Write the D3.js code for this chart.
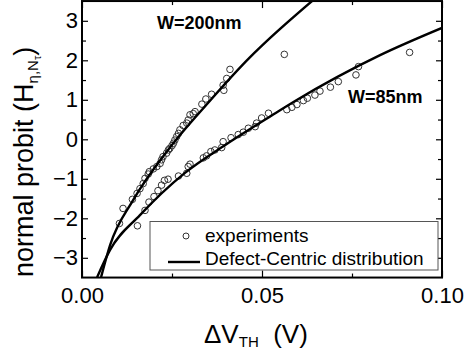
<!DOCTYPE html>
<html><head><meta charset="utf-8">
<script src="https://cdn.jsdelivr.net/npm/d3@7"></script>
<style>body{margin:0;background:#fff}svg{display:block}text{font-family:"Liberation Sans",Arial,sans-serif}</style>
</head><body>
<svg id="c" width="468" height="349"></svg>
<script>
// W=200nm experiments
const x200 = [0.0104,0.0114,0.0140,0.0153,0.0161,0.0170,0.0175,0.0184,0.0187,0.0198,0.0208,0.0217,0.0221,0.0225,0.0235,0.0240,0.0244,0.0250,0.0254,0.0258,0.0263,0.0268,0.0272,0.0281,0.0291,0.0295,0.0300,0.0309,0.0314,0.0333,0.0344,0.0360,0.0394,0.0392,0.0402,0.0411];
const y200 = [-2.13,-1.75,-1.52,-1.37,-1.25,-1.12,-0.99,-0.88,-0.82,-0.75,-0.69,-0.61,-0.52,-0.44,-0.35,-0.27,-0.23,-0.16,-0.10,-0.02,0.07,0.15,0.24,0.35,0.41,0.49,0.62,0.65,0.70,0.89,1.02,1.14,1.24,1.37,1.54,1.77];
// W=85nm experiments
const x85 = [0.0154,0.0175,0.0186,0.0200,0.0211,0.0221,0.0229,0.0239,0.0268,0.0291,0.0295,0.0300,0.0337,0.0346,0.0358,0.0369,0.0388,0.0392,0.0414,0.0434,0.0448,0.0462,0.0481,0.0485,0.0499,0.0518,0.0569,0.0583,0.0597,0.0615,0.0626,0.0647,0.0661,0.0690,0.0712,0.0761,0.0768,0.0910,0.0562];
const y85 = [-2.19,-1.80,-1.59,-1.45,-1.30,-1.16,-1.04,-1.01,-0.93,-0.86,-0.69,-0.63,-0.47,-0.42,-0.31,-0.27,-0.21,-0.06,0.04,0.12,0.18,0.28,0.32,0.41,0.54,0.66,0.75,0.81,0.88,0.98,1.04,1.12,1.22,1.32,1.46,1.63,1.84,2.20,2.15];
// Defect-centric fits
const fitX200 = [0.0053,0.0078,0.0142,0.0239,0.0350,0.0467,0.0522,0.0639];
const fitY200 = [-3.49,-2.68,-1.54,-0.27,0.92,2.08,2.56,3.50];
const fitX85 = [0.0042,0.0078,0.0161,0.0286,0.0400,0.0528,0.0592,0.0828,0.1000];
const fitY85 = [-3.49,-2.80,-1.92,-0.85,-0.13,0.61,0.97,2.13,2.82];
// ticks
const xTicks = [0, 0.05, 0.10];
const xTickLabels = ["0.00","0.05","0.10"];
const xMinor = [0.025, 0.075];
const yTicks = [-3,-2,-1,0,1,2,3];
const yMinor = [-2.5,-1.5,-0.5,0.5,1.5,2.5];

const svg = d3.select("#c");
const L=82, R=442, T=1.05, B=277.55;
const x = d3.scaleLinear().domain([0,0.10]).range([L,R]);
const y = d3.scaleLinear().domain([-3.5,3.5]).range([B,T]);

svg.append("defs").append("clipPath").attr("id","clip").append("rect")
  .attr("x",L).attr("y",T).attr("width",R-L).attr("height",B-T);

const font = '"Liberation Sans",Arial,sans-serif';
function styleAxis(g){ g.select(".domain").remove(); g.selectAll("line").attr("stroke","#000").attr("stroke-width",1.2);
  g.selectAll("text").attr("font-family",font).attr("font-size",22).attr("fill","#000"); }

// bottom
svg.append("g").attr("transform",`translate(0,${B})`)
  .call(d3.axisBottom(x).tickValues(xTicks).tickFormat((d,i)=>xTickLabels[i]).tickSizeInner(-7).tickSizeOuter(0).tickPadding(10)).call(styleAxis);
svg.append("g").attr("transform",`translate(0,${B})`)
  .call(d3.axisBottom(x).tickValues(xMinor).tickFormat("").tickSizeInner(-4).tickSizeOuter(0)).call(styleAxis);
// top
svg.append("g").attr("transform",`translate(0,${T})`)
  .call(d3.axisTop(x).tickValues(xTicks).tickFormat("").tickSizeInner(-7).tickSizeOuter(0)).call(styleAxis);
svg.append("g").attr("transform",`translate(0,${T})`)
  .call(d3.axisTop(x).tickValues(xMinor).tickFormat("").tickSizeInner(-4).tickSizeOuter(0)).call(styleAxis);
// left
svg.append("g").attr("transform",`translate(${L},0)`)
  .call(d3.axisLeft(y).tickValues(yTicks).tickFormat(d3.format("d")).tickSizeInner(-6).tickSizeOuter(0).tickPadding(4)).call(styleAxis);
svg.append("g").attr("transform",`translate(${L},0)`)
  .call(d3.axisLeft(y).tickValues(yMinor).tickFormat("").tickSizeInner(-4).tickSizeOuter(0)).call(styleAxis);
// right
svg.append("g").attr("transform",`translate(${R},0)`)
  .call(d3.axisRight(y).tickValues(yTicks).tickFormat("").tickSizeInner(-6).tickSizeOuter(0)).call(styleAxis);
svg.append("g").attr("transform",`translate(${R},0)`)
  .call(d3.axisRight(y).tickValues(yMinor).tickFormat("").tickSizeInner(-4).tickSizeOuter(0)).call(styleAxis);

// frame
svg.append("rect").attr("x",L).attr("y",T).attr("width",R-L).attr("height",B-T)
  .attr("fill","none").attr("stroke","#000").attr("stroke-width",2);

// legend box
svg.append("rect").attr("x",150).attr("y",221.5).attr("width",288).attr("height",48.5)
  .attr("fill","#fff").attr("stroke","#555").attr("stroke-width",1);

// points
const pts = svg.append("g");
function drawPts(xs, ys){
  pts.selectAll(null).data(xs.map((d,i)=>[d,ys[i]])).enter().append("circle")
    .attr("cx",d=>x(d[0])).attr("cy",d=>y(d[1])).attr("r",3.3)
    .attr("fill","none").attr("stroke","#333").attr("stroke-width",1);
}
drawPts(x200,y200);
drawPts(x85,y85);

// fit curves
const line = d3.line().x(d=>x(d[0])).y(d=>y(d[1])).curve(d3.curveMonotoneX);
const cg = svg.append("g").attr("clip-path","url(#clip)");
cg.append("path").attr("d",line(fitX200.map((d,i)=>[d,fitY200[i]]))).attr("fill","none").attr("stroke","#000").attr("stroke-width",2.4);
cg.append("path").attr("d",line(fitX85.map((d,i)=>[d,fitY85[i]]))).attr("fill","none").attr("stroke","#000").attr("stroke-width",2.4);

// legend contents
svg.append("circle").attr("cx",186).attr("cy",236).attr("r",3).attr("fill","none").attr("stroke","#333").attr("stroke-width",1);
svg.append("text").attr("x",205).attr("y",242).attr("font-size",19).text("experiments");
svg.append("line").attr("x1",168).attr("x2",200).attr("y1",262).attr("y2",262).attr("stroke","#000").attr("stroke-width",2.4);
svg.append("text").attr("x",205).attr("y",265).attr("font-size",19).text("Defect-Centric distribution");

// annotations
svg.append("text").attr("x",157).attr("y",29).attr("font-size",18).attr("font-weight","bold").text("W=200nm");
svg.append("text").attr("x",348).attr("y",102.5).attr("font-size",18).attr("font-weight","bold").text("W=85nm");

// x title
const xt = svg.append("text").attr("x",204).attr("y",343).attr("font-size",26);
xt.append("tspan").text("ΔV");
xt.append("tspan").attr("font-size",15).attr("dy",4).text("TH");
xt.append("tspan").attr("dy",-4).text("\u00a0\u00a0(V)");

// y title
const yt = svg.append("text").attr("transform","translate(33,277) rotate(-90)").attr("font-size",27);
yt.append("tspan").text("normal probit (H");
yt.append("tspan").attr("font-size",15).attr("dy",5).text("η,N");
yt.append("tspan").attr("font-size",11).attr("dy",3).text("τ");
yt.append("tspan").attr("dy",-8).text(")");
</script>
</body></html>
